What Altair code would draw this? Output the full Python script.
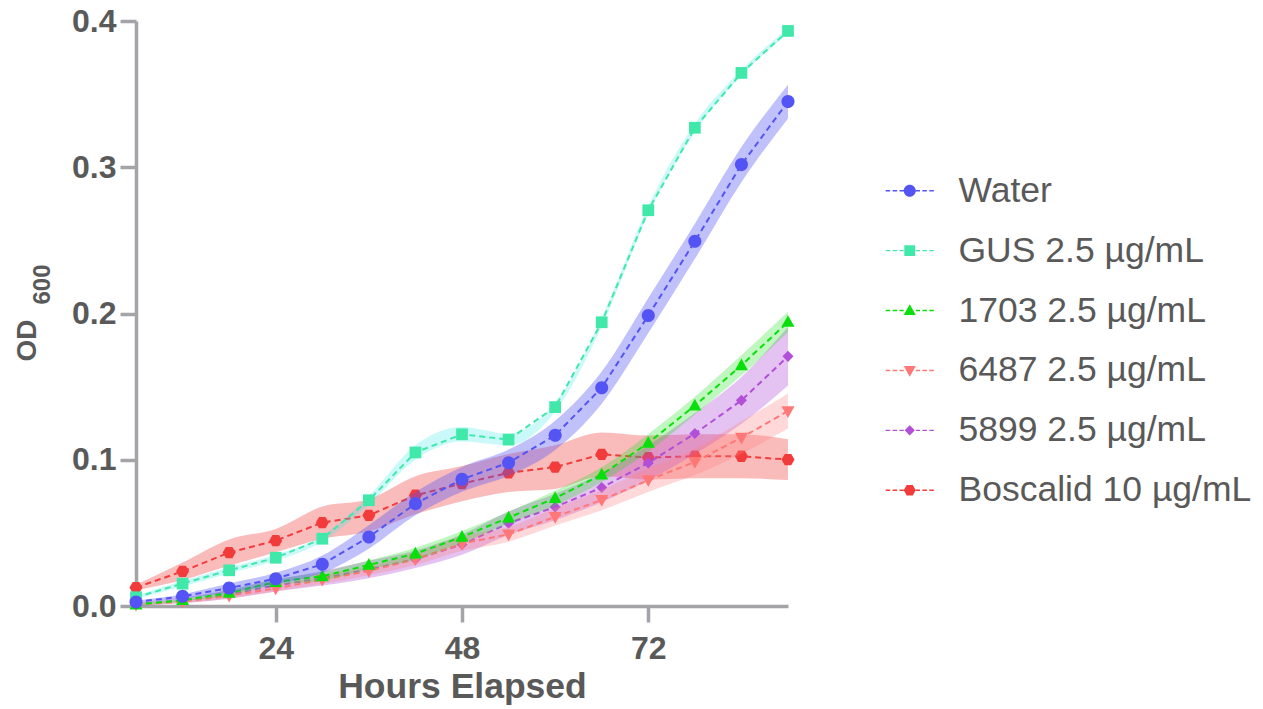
import altair as alt
import pandas as pd

hours = [6, 12, 18, 24, 30, 36, 42, 48, 54, 60, 66, 72, 78, 84, 90]

series_names = ["Water", "GUS 2.5 µg/mL", "1703 2.5 µg/mL", "6487 2.5 µg/mL",
                "5899 2.5 µg/mL", "Boscalid 10 µg/mL"]

water_mean = [0.0027, 0.0066, 0.0123, 0.0187, 0.0285, 0.0472, 0.070, 0.0866, 0.098, 0.1167,
              0.1493, 0.1986, 0.2494, 0.3018, 0.3449]
water_sem = [0.001, 0.0015, 0.003, 0.004, 0.006, 0.008, 0.008, 0.0085, 0.009, 0.010,
             0.011, 0.012, 0.012, 0.012, 0.0115]

gus_mean = [0.006, 0.0153, 0.0244, 0.033, 0.046, 0.0723, 0.105, 0.1174, 0.1138, 0.136,
            0.194, 0.2706, 0.327, 0.3645, 0.3932]
gus_sem = [0.001, 0.002, 0.002, 0.002, 0.002, 0.003, 0.005, 0.005, 0.004, 0.003,
           0.003, 0.003, 0.003, 0.002, 0.002]

s1703_mean = [0.001, 0.004, 0.009, 0.0164, 0.0203, 0.0281, 0.0358, 0.0472, 0.0604, 0.0738,
              0.0898, 0.1115, 0.137, 0.1646, 0.1942]
s1703_sem = [0.001, 0.001, 0.002, 0.002, 0.003, 0.003, 0.004, 0.004, 0.004, 0.005,
             0.005, 0.006, 0.006, 0.007, 0.007]

s6487_mean = [0.001, 0.003, 0.007, 0.012, 0.018, 0.024, 0.032, 0.0427, 0.049, 0.061,
              0.0725, 0.086, 0.0985, 0.1151, 0.1333]
s6487_sem = [0.001, 0.001, 0.002, 0.002, 0.003, 0.003, 0.004, 0.005, 0.005, 0.006,
             0.007, 0.008, 0.009, 0.011, 0.012]

s5899_mean = [0.001, 0.004, 0.008, 0.014, 0.019, 0.025, 0.032, 0.042, 0.0566, 0.0677,
              0.081, 0.0978, 0.1179, 0.1406, 0.1707]
s5899_sem = [0.001, 0.002, 0.003, 0.004, 0.005, 0.006, 0.006, 0.007, 0.008, 0.009,
             0.010, 0.012, 0.014, 0.016, 0.020]

bosc_mean = [0.0126, 0.0237, 0.0365, 0.0447, 0.057, 0.062, 0.0757, 0.0837, 0.091, 0.095,
             0.1037, 0.1015, 0.1024, 0.1024, 0.1001]
bosc_sem = [0.002, 0.006, 0.009, 0.008, 0.011, 0.011, 0.013, 0.012, 0.013, 0.015,
            0.015, 0.015, 0.015, 0.015, 0.014]

line_colors = ["#5454F5", "#40E8AA", "#0BDF0B", "#FF7777", "#B24FD8", "#F23C3C"]
band_colors = ["#5454F5", "#2EE6E6", "#1EE01E", "#FF8080", "#B24FD8", "#F23C3C"]
band_opac = [0.37, 0.25, 0.28, 0.30, 0.35, 0.35]

marker_paths = [
    "M-1,0A1,1 0 1,0 1,0A1,1 0 1,0 -1,0Z",
    "M-0.9,-0.9H0.9V0.9H-0.9Z",
    "M0,-1.05L1,0.75L-1,0.75Z",
    "M0,1.05L1,-0.75L-1,-0.75Z",
    "M0,-0.85L0.85,0L0,0.85L-0.85,0Z",
    "M-1,0L-0.5,-0.87L0.5,-0.87L1,0L0.5,0.87L-0.5,0.87Z",
]

dash_segments = [(-4.0, -3.25), (-2.85, -2.1), (-1.7, -1.0), (1.0, 1.7), (2.1, 2.85), (3.25, 4.0)]
dash_path = "".join(f"M{a},-0.12H{b}V0.12H{a}Z" for a, b in dash_segments)
legend_paths = [dash_path + p for p in marker_paths]

means = [water_mean, gus_mean, s1703_mean, s6487_mean, s5899_mean, bosc_mean]
sems = [water_sem, gus_sem, s1703_sem, s6487_sem, s5899_sem, bosc_sem]

rows = []
for name, m, s in zip(series_names, means, sems):
    for h, mv, sv in zip(hours, m, s):
        rows.append({"series": name, "hours": h, "od": mv, "lo": mv - sv, "hi": mv + sv})
df = pd.DataFrame(rows)

FONT = "Liberation Sans"
TXT = "#595959"
AX = "#A3A3A8"

xscale = alt.Scale(domain=[6, 90], nice=False, zero=False)
yscale = alt.Scale(domain=[0, 0.4], nice=False)

xaxis = alt.Axis(values=[24, 48, 72], title="Hours Elapsed", grid=False,
                 labelFont=FONT, labelFontSize=32, labelFontWeight="bold", labelColor=TXT,
                 titleFont=FONT, titleFontSize=35.5, titleFontWeight="bold", titleColor=TXT,
                 domainColor=AX, domainWidth=3.5, tickColor=AX, tickWidth=3.5, tickSize=16,
                 labelPadding=11, titlePadding=5)
yaxis = alt.Axis(values=[0, 0.1, 0.2, 0.3, 0.4], format=".1f", title="OD", grid=False,
                 labelFont=FONT, labelFontSize=32, labelFontWeight="bold", labelColor=TXT,
                 titleFont=FONT, titleFontSize=28, titleFontWeight="bold", titleColor=TXT,
                 titleBaseline="alphabetic", titleX=-101, titleY=319,
                 domainColor=AX, domainWidth=3.5, tickColor=AX, tickWidth=3.5, tickSize=16,
                 labelPadding=4)

X = alt.X("hours:Q", scale=xscale, axis=xaxis)
Y = alt.Y("od:Q", scale=yscale, axis=yaxis)
YLO = alt.Y("lo:Q", scale=yscale, axis=yaxis)

base = alt.Chart(df)
layers = []
for i in reversed(range(len(series_names))):
    name = series_names[i]
    sub = base.transform_filter(alt.datum.series == name)
    layers.append(sub.mark_area(color=band_colors[i], opacity=band_opac[i], interpolate="monotone")
                  .encode(x=X, y=YLO, y2="hi:Q"))
    layers.append(sub.mark_line(color=line_colors[i], strokeDash=[6, 4], strokeWidth=2)
                  .encode(x=X, y=Y))
    layers.append(sub.mark_point(shape=marker_paths[i], filled=True, size=170, color=line_colors[i],
                                 opacity=1, strokeWidth=0)
                  .encode(x=X, y=Y))

legend_kw = dict(orient="none", legendX=756, legendY=152, title=None, padding=0,
                 labelFont=FONT, labelFontSize=35.5, labelColor=TXT, labelOffset=31, labelLimit=0,
                 symbolSize=145, symbolStrokeWidth=0, rowPadding=22.9)
legend_layer = base.transform_filter(alt.datum.hours < 0).mark_point(filled=True, opacity=1).encode(
    x=X,
    y=Y,
    color=alt.Color("series:N", scale=alt.Scale(domain=series_names, range=line_colors),
                    legend=alt.Legend(**legend_kw)),
    shape=alt.Shape("series:N", scale=alt.Scale(domain=series_names, range=legend_paths),
                    legend=alt.Legend(**legend_kw)),
)
layers.append(legend_layer)

chart = alt.layer(*layers).properties(
    width=652, height=585,
    autosize="none",
    padding={"left": 136, "top": 21, "right": 475, "bottom": 103},
    title=alt.TitleParams("600", orient="left", anchor="middle", frame="group", font=FONT,
                          fontSize=24, fontWeight="bold", color=TXT, baseline="alphabetic",
                          offset=-40, dx=29, dy=21),
).configure_view(stroke=None)

chart.save("out.html", embed_options={"renderer": "svg", "actions": False})
